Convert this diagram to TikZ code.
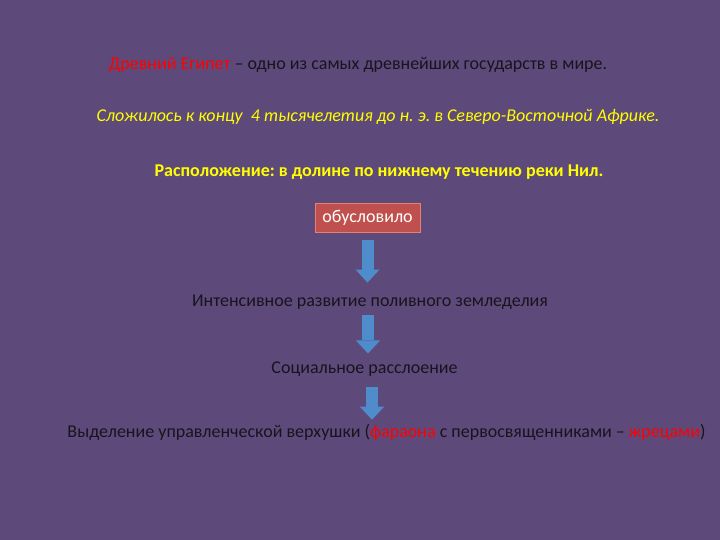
\documentclass[tikz,border=0pt]{standalone}
\usepackage{fontspec}
\setmainfont{Carlito}
\usetikzlibrary{arrows.meta}
\frenchspacing
\definecolor{slidebg}{RGB}{94,74,122}
\definecolor{boxred}{RGB}{192,80,77}
\definecolor{boxedge}{RGB}{226,130,118}
\definecolor{arrowblue}{RGB}{79,140,204}
\definecolor{darktext}{RGB}{22,20,28}
\definecolor{hiyellow}{RGB}{255,255,0}
\begin{document}
\begin{tikzpicture}[x=1pt,y=-1pt,
  txt/.style={font=\fontsize{18}{21}\selectfont,text=darktext,inner sep=0pt},
  down/.style={line width=12pt,arrowblue,-{Triangle[width=24pt,length=13pt,line width=0pt]}}]
\fill[slidebg] (0,0) rectangle (720,540);
\useasboundingbox (0,0) rectangle (720,540);
\node[txt] (egypt) at (358,65) {\textcolor{red}{Древний Египет} – одно из самых древнейших государств в мире.};
\node[txt,text=hiyellow,font=\fontsize{18}{21}\selectfont\itshape] (formed) at (378,117) {Сложилось к концу \ 4 тысячелетия до н. э. в Северо-Восточной Африке.};
\node[txt,text=hiyellow,font=\fontsize{18}{21}\selectfont\bfseries] (place) at (379,172) {Расположение: в долине по нижнему течению реки Нил.};
\node[txt,fill=boxred,draw=boxedge,line width=0.8pt,text=white,minimum width=105pt,minimum height=29pt] (cause) at (367.5,217.5) {обусловило};
\node[txt] (agri) at (370,302) {Интенсивное развитие поливного земледелия};
\node[txt] (social) at (364.5,369) {Социальное расслоение};
\node[txt] (elite) at (386.5,432) {Выделение управленческой верхушки (\textcolor{red}{фараона} с первосвященниками – \textcolor{red}{жрецами})};
\draw[down,shorten <=8pt,shorten >=12pt] (cause.south) -- (cause.south |- agri.north);
\draw[down,shorten <=6pt,shorten >=8pt] ([xshift=-2pt]agri.south) -- ([xshift=-2pt]agri.south |- social.north);
\draw[down,shorten <=10pt,shorten >=4pt] ([xshift=7.5pt]social.south) -- ([xshift=7.5pt]social.south |- elite.north);
\end{tikzpicture}
\end{document}
